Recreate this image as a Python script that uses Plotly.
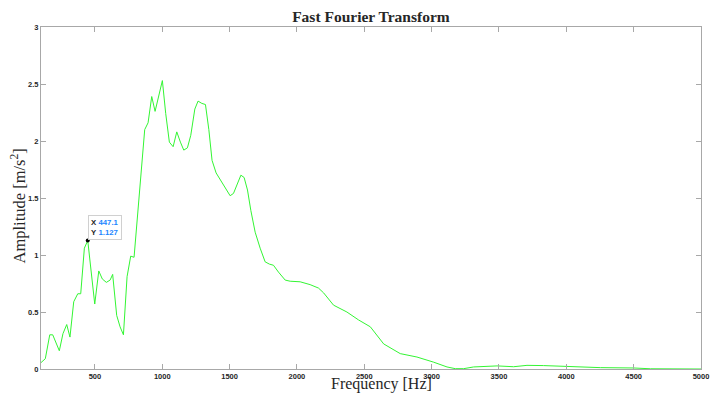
import plotly.graph_objects as go

# ---- data ----
freq_hz = [100, 132, 165, 187, 236, 263, 291, 315, 343, 373, 395, 422, 447.1, 466, 499,
           529, 555, 585, 613, 632, 662, 687, 712, 739, 766, 791, 830, 870, 895, 922,
           947, 974, 1001, 1026, 1053, 1081, 1108, 1135, 1160, 1187, 1212, 1242, 1266,
           1294, 1321, 1346, 1370, 1400, 1430, 1467, 1504, 1529, 1554, 1584, 1608, 1633,
           1658, 1690, 1727, 1764, 1796, 1826, 1863, 1913, 1950, 2024, 2098, 2160, 2198,
           2240, 2272, 2371, 2458, 2545, 2644, 2767, 2891, 3015, 3114, 3176, 3238, 3312,
           3486, 3609, 3708, 3832, 4005, 4253, 4501, 4624, 5000]
amplitude = [0.056, 0.09, 0.30, 0.30, 0.16, 0.31, 0.39, 0.28, 0.59, 0.66, 0.66, 1.06, 1.127,
             0.93, 0.57, 0.86, 0.79, 0.76, 0.78, 0.83, 0.47, 0.37, 0.30, 0.81, 0.99, 0.98,
             1.51, 2.10, 2.16, 2.39, 2.26, 2.39, 2.53, 2.24, 1.99, 1.95, 2.08, 1.99, 1.92,
             1.94, 2.05, 2.28, 2.35, 2.33, 2.32, 2.10, 1.83, 1.72, 1.66, 1.59, 1.52, 1.54,
             1.61, 1.70, 1.68, 1.57, 1.39, 1.20, 1.06, 0.94, 0.92, 0.91, 0.85, 0.78, 0.77,
             0.765, 0.74, 0.71, 0.668, 0.61, 0.56, 0.50, 0.43, 0.37, 0.22, 0.135, 0.105,
             0.06, 0.018, 0.003, 0.003, 0.018, 0.027, 0.02, 0.032, 0.03, 0.02, 0.012, 0.009,
             0.002, 0.0]

tip_x = [447.1]
tip_y = [1.127]

x_tickvals = [500, 1000, 1500, 2000, 2500, 3000, 3500, 4000, 4500, 5000]
y_tickvals = [0, 0.5, 1, 1.5, 2, 2.5, 3]
y_ticktext = ["0", "0.5", "1", "1.5", "2", "2.5", "3"]

title_text = "Fast Fourier Transform"
x_title = "Frequency [Hz]"
y_title = "Amplitude [m/s<sup>2</sup>]"

AXIS_COLOR = "#a8a8a8"
TICK_FONT = dict(family="Liberation Sans", size=7.5, color="#262626", weight="bold")
SERIF = "Liberation Serif"

fig = go.Figure()
fig.add_trace(go.Scatter(x=freq_hz, y=amplitude, mode="lines",
                         line=dict(color="#33f533", width=1), showlegend=False,
                         hoverinfo="skip"))
fig.add_trace(go.Scatter(x=tip_x, y=tip_y, mode="markers",
                         marker=dict(color="black", size=4), showlegend=False,
                         hoverinfo="skip"))

fig.add_annotation(x=tip_x[0], y=tip_y[0], xref="x", yref="y",
                   text=("<b>X</b> <b><span style='color:#1a86ff'>%.1f</span></b><br>"
                         "<b>Y</b> <b><span style='color:#1a86ff'>%.3f</span></b>")
                   % (tip_x[0], tip_y[0]),
                   showarrow=False, xanchor="left", yanchor="bottom", align="left",
                   xshift=0, yshift=1,
                   font=dict(family="Liberation Sans", size=7.8, color="#262626"),
                   bgcolor="white", bordercolor="#d0d0d0", borderwidth=1, borderpad=2)

fig.add_annotation(text=x_title, xref="paper", yref="paper", x=0.5, y=0,
                   xshift=10, yshift=-14.5, yanchor="middle", xanchor="center",
                   showarrow=False, font=dict(family=SERIF, size=16, color="#262626"))
fig.add_annotation(text=y_title, xref="paper", yref="paper", x=0, y=0.5,
                   xshift=-22.5, yshift=-8, textangle=-90, xanchor="center", yanchor="middle",
                   showarrow=False, font=dict(family=SERIF, size=16.5, color="#262626"))

fig.update_layout(
    width=712, height=396,
    margin=dict(l=41, r=11, t=27, b=27, autoexpand=False),
    paper_bgcolor="white", plot_bgcolor="white",
    hovermode=False,
    title=dict(text="<b>" + title_text + "</b>", x=0.521, xanchor="center",
               y=1 - 17 / 396, yanchor="middle", yref="container", automargin=False,
               font=dict(family=SERIF, size=15.5, color="#262626")),
    xaxis=dict(range=[100, 5000], tickvals=x_tickvals, ticks="inside", ticklen=5,
               tickcolor=AXIS_COLOR, showline=True, linecolor=AXIS_COLOR, linewidth=1,
               mirror="ticks", showgrid=False, zeroline=False, tickfont=TICK_FONT,
               automargin=False),
    yaxis=dict(range=[0, 3], tickvals=y_tickvals, ticktext=y_ticktext, ticks="inside",
               ticklen=5, tickcolor=AXIS_COLOR, showline=True, linecolor=AXIS_COLOR,
               linewidth=1, mirror="ticks", showgrid=False, zeroline=False,
               tickfont=TICK_FONT, automargin=False),
)

fig.write_html("out.html", config={"displayModeBar": False},
               post_script="document.body.style.margin='0';document.body.style.padding='0';")
